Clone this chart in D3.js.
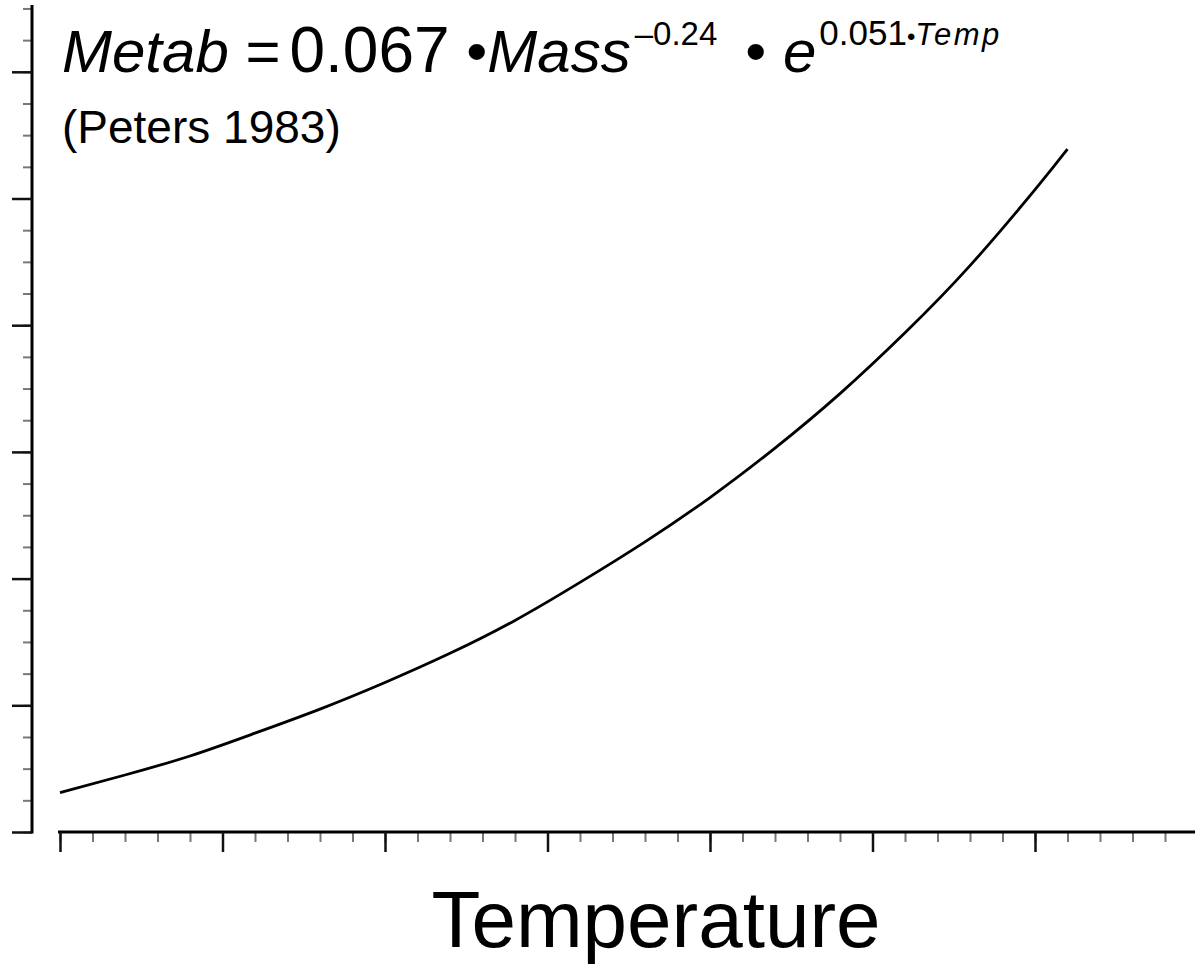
<!DOCTYPE html>
<html>
<head>
<meta charset="utf-8">
<script src="https://cdn.jsdelivr.net/npm/d3@7"></script>
<style>
  body { margin: 0; background: #ffffff; }
  svg { display: block; font-family: "Liberation Sans", Arial, sans-serif; }
</style>
</head>
<body>
<div id="chart"></div>
<script>
// Metabolic rate vs temperature (Peters 1983)
const temperature = [0, 2, 4, 6, 8, 10, 12, 14, 16, 18, 20, 22, 24, 26, 28, 30, 31];
const metabolism = [0.31, 0.45, 0.60, 0.78, 0.97, 1.18, 1.41, 1.67, 1.97, 2.29, 2.64, 3.03, 3.46, 3.94, 4.47, 5.07, 5.39];

// Tick positions (no labels in the original)
const xMajorTicks = [0, 5, 10, 15, 20, 25, 30, 35];
const xMinorTicks = d3.range(0, 35.01, 1);
const yMajorTicks = [0, 1, 2, 3, 4, 5, 6];
const yMinorTicks = d3.range(0, 6.51, 0.25);

const width = 1195;
const height = 968;

const svg = d3.select("#chart")
  .append("svg")
  .attr("width", width)
  .attr("height", height);

// Scales
const xScale = d3.scaleLinear()
  .domain([0, 35])
  .range([60, 60 + 35 * 32.5]);

const yScale = d3.scaleLinear()
  .domain([0, 6.5])
  .range([832, 832 - 6.5 * 126.7]);

// Minor ticks first, so the major ones sit on top
svg.append("g")
  .attr("transform", "translate(32,0)")
  .call(d3.axisLeft(yScale).tickValues(yMinorTicks).tickSize(9).tickSizeOuter(0).tickFormat(""))
  .call(g => g.select(".domain").remove())
  .call(g => g.selectAll("line").attr("stroke", "#777").attr("stroke-width", 2));

svg.append("g")
  .attr("transform", "translate(0,832)")
  .call(d3.axisBottom(xScale).tickValues(xMinorTicks).tickSize(10).tickSizeOuter(0).tickFormat(""))
  .call(g => g.select(".domain").remove())
  .call(g => g.selectAll("line").attr("stroke", "#777").attr("stroke-width", 2));

// Y axis
svg.append("g")
  .attr("transform", "translate(32,0)")
  .call(d3.axisLeft(yScale).tickValues(yMajorTicks).tickSize(20).tickSizeOuter(0).tickFormat(""))
  .call(g => g.select(".domain").attr("stroke-width", 3).attr("d", `M0,${yScale(0) + 1.5}V5`))
  .call(g => g.selectAll("line").attr("stroke", "#111").attr("stroke-width", 2.5));

// X axis
svg.append("g")
  .attr("transform", "translate(0,832)")
  .call(d3.axisBottom(xScale).tickValues(xMajorTicks).tickSize(20).tickSizeOuter(0).tickFormat(""))
  .call(g => g.select(".domain").attr("stroke-width", 3).attr("d", `M58,0H${width}`))
  .call(g => g.selectAll("line").attr("stroke", "#111").attr("stroke-width", 2.5));

// Curve
const line = d3.line()
  .x((d, i) => xScale(temperature[i]))
  .y(d => yScale(d))
  .curve(d3.curveNatural);

svg.append("path")
  .datum(metabolism)
  .attr("d", line)
  .attr("fill", "none")
  .attr("stroke", "#000")
  .attr("stroke-width", 2.8);

// Equation title
const eq = svg.append("text")
  .attr("x", 62)
  .attr("y", 72)
  .style("font-size", "60px")
  .attr("fill", "#000");

eq.append("tspan").style("font-style", "italic").text("Metab");
eq.append("tspan").text(" =");
eq.append("tspan").attr("dx", 9).style("font-size", "64px").text("0.067");
eq.append("tspan").text(" •");
eq.append("tspan").style("font-style", "italic").text("Mass");
eq.append("tspan").attr("dx", 4).attr("dy", -27).style("font-size", "33px").text("–0.24");
eq.append("tspan").attr("dx", 28).attr("dy", 27).text("• ");
eq.append("tspan").style("font-style", "italic").text("e");
eq.append("tspan").attr("dx", 3).attr("dy", -27).style("font-size", "35px").text("0.051");
eq.append("tspan").style("font-size", "24px").text("•");
eq.append("tspan").style("font-size", "31px").style("font-style", "italic")
  .style("letter-spacing", "2.5px").text("Temp");

svg.append("text")
  .attr("x", 62)
  .attr("y", 143)
  .style("font-size", "46px")
  .attr("fill", "#000")
  .text("(Peters 1983)");

// X axis title
svg.append("text")
  .attr("x", 656)
  .attr("y", 947)
  .attr("text-anchor", "middle")
  .style("font-size", "80px")
  .attr("fill", "#000")
  .text("Temperature");
</script>
</body>
</html>
